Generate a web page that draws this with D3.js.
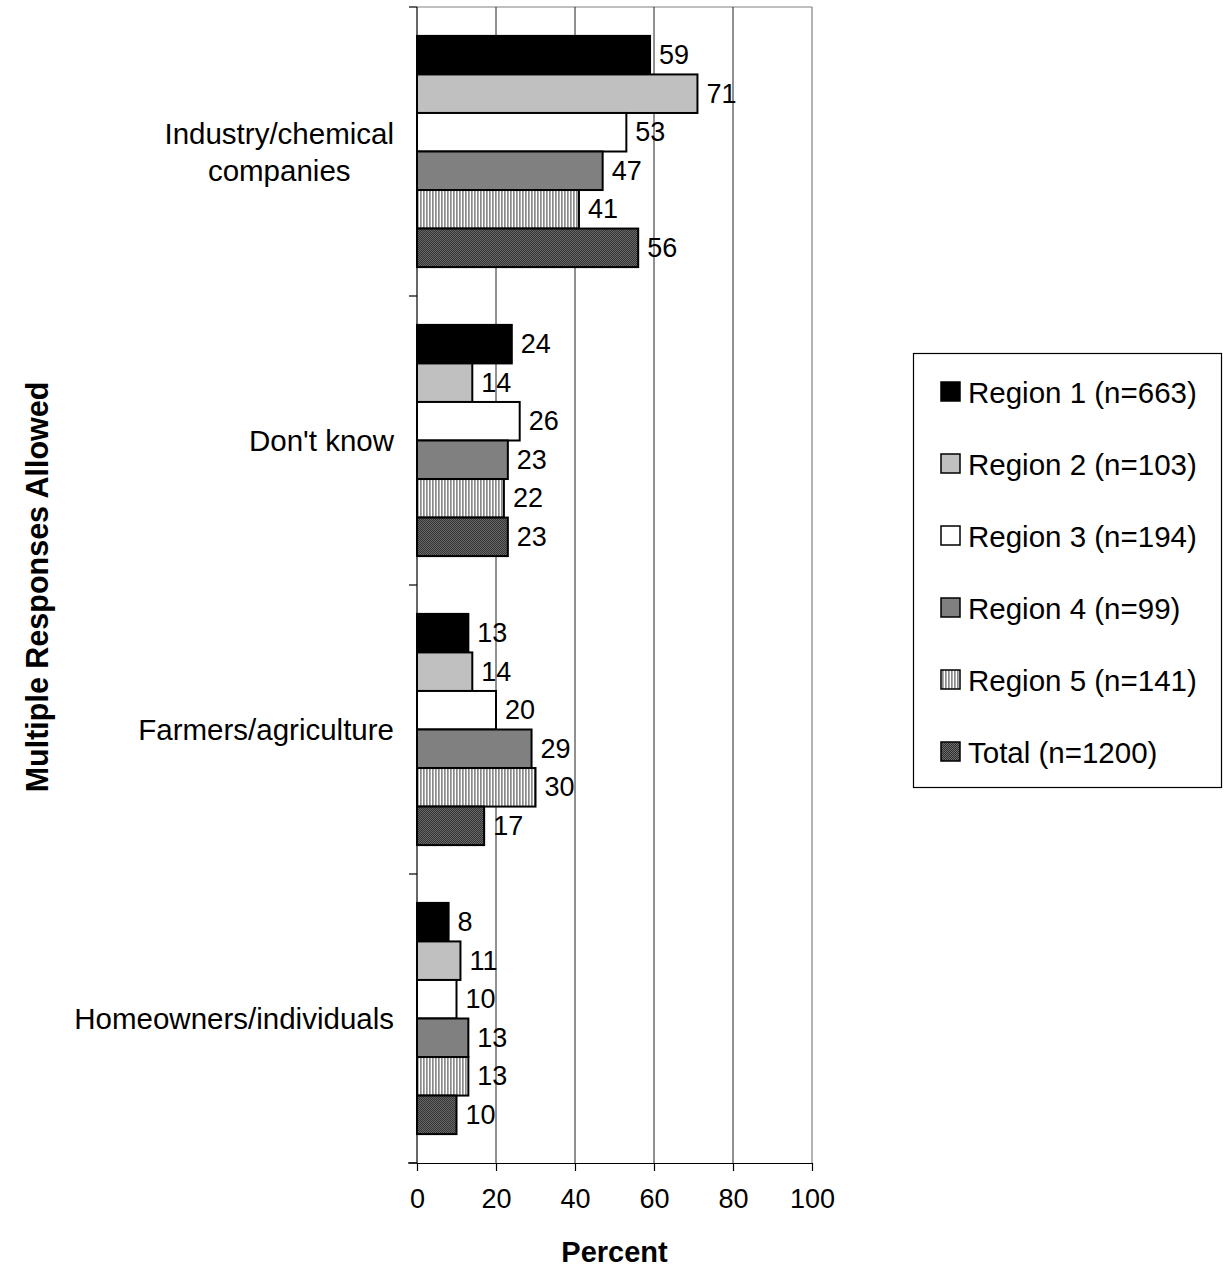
<!DOCTYPE html>
<html>
<head>
<meta charset="utf-8">
<script src="https://cdn.jsdelivr.net/npm/d3@7"></script>
<style>
html,body{margin:0;padding:0;background:#fff;}
svg{display:block;font-family:"Liberation Sans",Arial,sans-serif;}
</style>
</head>
<body>
<svg id="chart" width="1225" height="1268"></svg>
<script>
const categories = ["Industry/chemical companies", "Don't know", "Farmers/agriculture", "Homeowners/individuals"];
const categoryLines = [["Industry/chemical", "companies"], ["Don't know"], ["Farmers/agriculture"], ["Homeowners/individuals"]];
const seriesNames = ["Region 1 (n=663)", "Region 2 (n=103)", "Region 3 (n=194)", "Region 4 (n=99)", "Region 5 (n=141)", "Total (n=1200)"];
const region1 = [59, 24, 13, 8];
const region2 = [71, 14, 14, 11];
const region3 = [53, 26, 20, 10];
const region4 = [47, 23, 29, 13];
const region5 = [41, 22, 30, 13];
const total   = [56, 23, 17, 10];
const xTicks = [0, 20, 40, 60, 80, 100];
const seriesValues = [region1, region2, region3, region4, region5, total];

const svg = d3.select("#chart");
const defs = svg.append("defs");
// vertical stripes pattern for Region 5
const p1 = defs.append("pattern").attr("id","stripes").attr("patternUnits","userSpaceOnUse")
  .attr("width",3).attr("height",3);
p1.append("rect").attr("width",3).attr("height",3).attr("fill","#ffffff");
p1.append("rect").attr("x",0).attr("width",1.7).attr("height",3).attr("fill","#8a8a8a");
// dark checker pattern for Total
const p2 = defs.append("pattern").attr("id","checker").attr("patternUnits","userSpaceOnUse")
  .attr("width",2).attr("height",2);
p2.append("rect").attr("width",2).attr("height",2).attr("fill","#2e2e2e");
p2.append("rect").attr("x",0).attr("y",0).attr("width",1).attr("height",1).attr("fill","#6e6e6e");
p2.append("rect").attr("x",1).attr("y",1).attr("width",1).attr("height",1).attr("fill","#6e6e6e");

const fills = ["#000000", "#c0c0c0", "#ffffff", "#808080", "url(#stripes)", "url(#checker)"];

const pLeft = 417, pRight = 812, pTop = 7, pBottom = 1163;

const x = d3.scaleLinear().domain([0, 100]).range([pLeft, pRight]);
const y0 = d3.scaleBand().domain(categories).range([pTop, pBottom]).paddingInner(0.2).paddingOuter(0.1);
const y1 = d3.scaleBand().domain(seriesNames).range([0, y0.bandwidth()]);

// plot border (gray) top/right
svg.append("line").attr("x1",pLeft).attr("x2",pRight).attr("y1",pTop).attr("y2",pTop).attr("stroke","#808080").attr("stroke-width",1.2);
svg.append("line").attr("x1",pRight).attr("x2",pRight).attr("y1",pTop).attr("y2",pBottom).attr("stroke","#808080").attr("stroke-width",1.2);

// gridlines
svg.append("g").selectAll("line").data(xTicks.filter(d => d > 0 && d < 100)).join("line")
  .attr("x1", d => x(d)).attr("x2", d => x(d)).attr("y1", pTop).attr("y2", pBottom)
  .attr("stroke", "#222").attr("stroke-width", 1);

// bars
const groups = svg.append("g").selectAll("g").data(categories).join("g")
  .attr("transform", c => `translate(0,${y0(c)})`);
groups.selectAll("rect").data((c, ci) => seriesNames.map((s, si) => ({s, si, v: seriesValues[si][ci]}))).join("rect")
  .attr("x", x(0))
  .attr("y", d => y1(d.s))
  .attr("width", d => x(d.v) - x(0))
  .attr("height", y1.bandwidth())
  .attr("fill", d => fills[d.si])
  .attr("stroke", "#000").attr("stroke-width", 2);
groups.selectAll("text").data((c, ci) => seriesNames.map((s, si) => ({s, si, v: seriesValues[si][ci]}))).join("text")
  .attr("x", d => x(d.v) + 9)
  .attr("y", d => y1(d.s) + y1.bandwidth() / 2)
  .attr("dominant-baseline", "central")
  .attr("font-size", 27).attr("fill", "#000")
  .text(d => d.v);

// y axis line + category ticks
svg.append("line").attr("x1",pLeft).attr("x2",pLeft).attr("y1",pTop).attr("y2",pBottom).attr("stroke","#000").attr("stroke-width",1.2);
const catBounds = d3.range(categories.length + 1).map(i => pTop + i * y0.step());
svg.append("g").selectAll("line").data(catBounds).join("line")
  .attr("x1", pLeft - 8).attr("x2", pLeft).attr("y1", d => d).attr("y2", d => d)
  .attr("stroke", "#000").attr("stroke-width", 1.2);

// x axis
const xAxis = svg.append("g").attr("transform", `translate(0,${pBottom})`)
  .call(d3.axisBottom(x).tickValues(xTicks).tickSize(8).tickPadding(18).tickSizeOuter(0));
xAxis.select(".domain").attr("stroke","#000").attr("stroke-width",1.2);
xAxis.selectAll(".tick line").attr("stroke","#000").attr("stroke-width",1.2);
xAxis.selectAll("text").attr("font-size", 27).attr("font-family", "Liberation Sans, Arial, sans-serif").attr("fill","#000");
svg.append("line").attr("x1", pLeft - 9).attr("x2", pLeft).attr("y1", pBottom).attr("y2", pBottom).attr("stroke","#000").attr("stroke-width",1.2);

// category labels
categories.forEach((c, i) => {
  const lines = categoryLines[i];
  const cy = y0(c) + y0.bandwidth() / 2;
  const lh = 37;
  const t = svg.append("text").attr("font-size", 29.5).attr("fill", "#000").attr("text-anchor", "middle");
  lines.forEach((ln, li) => {
    t.append("tspan").attr("y", cy + (li - (lines.length - 1) / 2) * lh).attr("dominant-baseline","central").text(ln);
  });
  let maxW = 0;
  t.selectAll("tspan").each(function(){ maxW = Math.max(maxW, this.getComputedTextLength()); });
  t.selectAll("tspan").attr("x", 394 - maxW / 2);
});

// axis titles
svg.append("text").attr("x", (pLeft + pRight) / 2).attr("y", 1252).attr("text-anchor","middle")
  .attr("dominant-baseline","central").attr("font-size", 29).attr("font-weight","bold").text("Percent");
svg.append("text").attr("transform", "translate(37,587) rotate(-90)").attr("text-anchor","middle")
  .attr("dominant-baseline","central").attr("font-size", 30.5).attr("font-weight","bold").text("Multiple Responses Allowed");

// legend
const lg = svg.append("g");
lg.append("rect").attr("x", 913.5).attr("y", 353.5).attr("width", 308).attr("height", 434)
  .attr("fill","#fff").attr("stroke","#000").attr("stroke-width",1.2);
const ly = d3.scalePoint().domain(seriesNames).range([392, 752]);
const items = lg.selectAll("g").data(seriesNames).join("g").attr("transform", d => `translate(0,${ly(d)})`);
items.append("rect").attr("x", 941).attr("y", -10).attr("width", 19).attr("height", 19)
  .attr("fill", (d, i) => fills[i]).attr("stroke","#000").attr("stroke-width",1.5);
items.append("text").attr("x", 968).attr("y", 0).attr("dominant-baseline","central")
  .attr("font-size", 29.5).attr("fill","#000").text(d => d);
</script>
</body>
</html>
